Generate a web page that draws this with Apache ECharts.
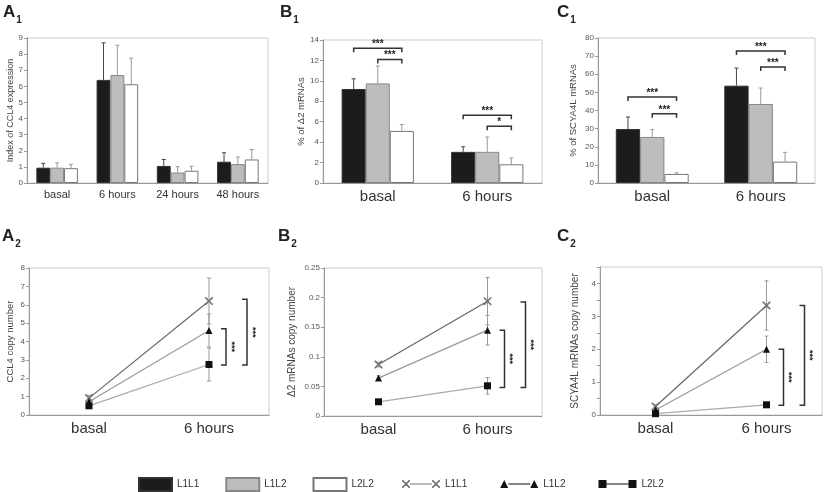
<!DOCTYPE html>
<html>
<head>
<meta charset="utf-8">
<script src="https://cdn.jsdelivr.net/npm/echarts@6/dist/echarts.min.js"></script>
<style>
html, body { margin: 0; padding: 0; background: #fff; }
#chart { width: 824px; height: 492px; }
</style>
</head>
<body>
<div id="chart"></div>
<script>
// categories
var barCats = ['basal', '6 hours', '24 hours', '48 hours'];
var twoCats = ['basal', '6 hours'];

// A1 - index of CCL4 expression (mean, upper error)
var a1L1L1 = [0.95, 6.4, 1.06, 1.32];
var a1L1L1Err = [0.27, 2.3, 0.4, 0.56];
var a1L1L2 = [0.95, 6.7, 0.65, 1.17];
var a1L1L2Err = [0.3, 1.85, 0.36, 0.44];
var a1L2L2 = [0.92, 6.13, 0.76, 1.46];
var a1L2L2Err = [0.24, 1.62, 0.28, 0.62];

// B1 - % of delta2 mRNAs
var b1L1L1 = [9.2, 3.05];
var b1L1L1Err = [1.0, 0.5];
var b1L1L2 = [9.75, 3.05];
var b1L1L2Err = [1.7, 1.45];
var b1L2L2 = [5.1, 1.83];
var b1L2L2Err = [0.62, 0.62];
// [category, from bar, to bar, height, label]
var b1Sig = [[0, 0, 2, 13.2, '***'], [0, 1, 2, 12.1, '***'], [1, 0, 2, 6.64, '***'], [1, 1, 2, 5.56, '*']];

// C1 - % of SCYA4L mRNAs
var c1L1L1 = [29.8, 53.7];
var c1L1L1Err = [6.6, 9.7];
var c1L1L2 = [25.4, 43.6];
var c1L1L2Err = [4.0, 8.8];
var c1L2L2 = [5.0, 11.8];
var c1L2L2Err = [0.6, 5.1];
var c1Sig = [[0, 0, 2, 47.4, '***'], [0, 1, 2, 38.2, '***'], [1, 0, 2, 72.8, '***'], [1, 1, 2, 64, '***']];

// A2 - CCL4 copy number
var a2L1L1 = [0.92, 6.2];
var a2L1L1Err = [0.15, 1.25];
var a2L1L2 = [0.72, 4.6];
var a2L1L2Err = [0.12, 0.9];
var a2L2L2 = [0.5, 2.75];
var a2L2L2Err = [0.1, 0.9];
// [category, top, bottom, label]
var a2Sig = [[1, 4.7, 2.72, '***'], [1, 6.3, 2.72, '***']];

// B2 - delta2 mRNAs copy number
var b2L1L1 = [0.087, 0.194];
var b2L1L1Err = [0.004, 0.04];
var b2L1L2 = [0.064, 0.145];
var b2L1L2Err = [0.004, 0.025];
var b2L2L2 = [0.024, 0.051];
var b2L2L2Err = [0.003, 0.014];
var b2Sig = [[1, 0.145, 0.048, '***'], [1, 0.1925, 0.048, '***']];

// C2 - SCYA4L mRNAs copy number
var c2L1L1 = [0.26, 3.33];
var c2L1L1Err = [0.05, 0.75];
var c2L1L2 = [0.15, 2.0];
var c2L1L2Err = [0.05, 0.4];
var c2L2L2 = [0.04, 0.31];
var c2L2L2Err = [0.03, 0.05];
var c2Sig = [[1, 2.0, 0.3, '***'], [1, 3.33, 0.3, '***']];

var font = 'Liberation Sans, Arial, sans-serif';
var xSymbol = 'path://M0,0L1.2,0L8,6.8L8,8L6.8,8L0,1.2Z M8,0L8,1.2L1.2,8L0,8L0,6.8L6.8,0Z';
var bracketOffsets = [17, 38]; // px right of the 6 hours point

function panelTitle(letter, left, top) {
	return {
		text: '{a|' + letter.charAt(0) + '}{s|' + letter.charAt(1) + '}',
		left: left,
		top: top,
		padding: 0,
		textStyle: {
			rich: {
				a: { fontSize: 17, fontFamily: font, color: '#222', verticalAlign: 'bottom' },
				s: { fontSize: 10, fontFamily: font, color: '#222', verticalAlign: 'bottom', padding: [0, 0, -4, 1] }
			}
		}
	};
}

function xAxisFor(grid, cats, size) {
	return {
		type: 'category', gridIndex: grid, data: cats,
		axisLine: { lineStyle: { color: '#999' } },
		axisTick: { length: 3, lineStyle: { color: '#999' } },
		axisLabel: { fontSize: size, fontFamily: font, color: '#333', margin: 6 }
	};
}

function yAxisFor(grid, max, interval, name, gap, nameSize, fmt) {
	return {
		type: 'value', gridIndex: grid, min: 0, max: max, interval: interval,
		name: name, nameLocation: 'middle', nameGap: gap,
		nameTextStyle: { fontSize: nameSize, fontFamily: font, color: '#444' },
		axisLine: { show: true, lineStyle: { color: '#999' } },
		axisTick: { show: true, length: 3, lineStyle: { color: '#999' } },
		splitLine: { show: false },
		axisLabel: { fontSize: 8, fontFamily: font, color: '#555', margin: 4, formatter: fmt }
	};
}

function barSeries(name, grid, data, width, color, border) {
	return {
		type: 'bar', name: name, xAxisIndex: grid, yAxisIndex: grid, data: data,
		barWidth: width, barGap: '0%',
		itemStyle: { color: color, borderColor: border, borderWidth: 1 }
	};
}

// upper error bars above grouped bars
function barErr(grid, vals, errs, idx, frac, color) {
	var rows = [];
	for (var i = 0; i < vals.length; i++) rows.push([i, vals[i], errs[i]]);
	return {
		type: 'custom', xAxisIndex: grid, yAxisIndex: grid, data: rows, z: 5,
		renderItem: function (params, api) {
			var band = api.size([1, 0])[0];
			var p0 = api.coord([api.value(0), api.value(1)]);
			var p1 = api.coord([api.value(0), api.value(1) + api.value(2)]);
			var x = p0[0] + (idx - 1) * band * frac;
			return { type: 'group', children: [
				{ type: 'line', shape: { x1: x, y1: p0[1], x2: x, y2: p1[1] }, style: { stroke: color, lineWidth: 1 } },
				{ type: 'line', shape: { x1: x - 2, y1: p1[1], x2: x + 2, y2: p1[1] }, style: { stroke: color, lineWidth: 1 } }
			] };
		}
	};
}

// significance brackets over bar pairs
function barSig(grid, sig, frac) {
	var rows = [];
	for (var i = 0; i < sig.length; i++) rows.push([sig[i][0], sig[i][3]]);
	return {
		type: 'custom', xAxisIndex: grid, yAxisIndex: grid, data: rows, z: 6,
		renderItem: function (params, api) {
			var s = sig[params.dataIndex];
			var band = api.size([1, 0])[0];
			var p = api.coord([api.value(0), api.value(1)]);
			var x1 = p[0] + (s[1] - 1) * band * frac;
			var x2 = p[0] + (s[2] - 1) * band * frac;
			var st = { stroke: '#333', lineWidth: 1.5, fill: 'none' };
			return { type: 'group', children: [
				{ type: 'polyline', shape: { points: [[x1, p[1] + 4], [x1, p[1]], [x2, p[1]], [x2, p[1] + 4]] }, style: st },
				{ type: 'text', x: (x1 + x2) / 2, y: p[1] + 1, style: { text: s[4], fill: '#222', font: 'bold 10px ' + font, align: 'center', verticalAlign: 'bottom' } }
			] };
		}
	};
}

function lineSeries(name, grid, data, symbol, size, lineColor, markColor) {
	return {
		type: 'line', name: name, xAxisIndex: grid, yAxisIndex: grid, data: data,
		symbol: symbol, symbolSize: size, z: 4,
		lineStyle: { color: lineColor, width: 1.2 },
		itemStyle: { color: markColor }
	};
}

// +/- error bars on line points
function lineErr(grid, vals, errs) {
	var rows = [];
	for (var i = 0; i < vals.length; i++) rows.push([i, vals[i] - errs[i], vals[i] + errs[i]]);
	return {
		type: 'custom', xAxisIndex: grid, yAxisIndex: grid, data: rows, z: 3,
		renderItem: function (params, api) {
			var lo = api.coord([api.value(0), api.value(1)]);
			var hi = api.coord([api.value(0), api.value(2)]);
			var st = { stroke: '#999', lineWidth: 1 };
			return { type: 'group', children: [
				{ type: 'line', shape: { x1: lo[0], y1: lo[1], x2: hi[0], y2: hi[1] }, style: st },
				{ type: 'line', shape: { x1: lo[0] - 2, y1: lo[1], x2: lo[0] + 2, y2: lo[1] }, style: st },
				{ type: 'line', shape: { x1: hi[0] - 2, y1: hi[1], x2: hi[0] + 2, y2: hi[1] }, style: st }
			] };
		}
	};
}

// vertical brackets to the right of the 6 hours points
function lineSig(grid, sig) {
	var rows = [];
	for (var i = 0; i < sig.length; i++) rows.push([sig[i][0], sig[i][1], sig[i][2]]);
	return {
		type: 'custom', xAxisIndex: grid, yAxisIndex: grid, data: rows, z: 6,
		renderItem: function (params, api) {
			var s = sig[params.dataIndex];
			var top = api.coord([api.value(0), api.value(1)]);
			var bot = api.coord([api.value(0), api.value(2)]);
			var x = top[0] + bracketOffsets[params.dataIndex];
			var st = { stroke: '#333', lineWidth: 1.5, fill: 'none' };
			return { type: 'group', children: [
				{ type: 'polyline', shape: { points: [[x - 5, top[1]], [x, top[1]], [x, bot[1]], [x - 5, bot[1]]] }, style: st },
				{ type: 'text', x: x + 5, y: (top[1] + bot[1]) / 2, rotation: -Math.PI / 2, style: { text: s[3], fill: '#222', font: 'bold 9px ' + font, align: 'center', verticalAlign: 'middle' } }
			] };
		}
	};
}

function intOnly(v) {
	return Math.abs(v - Math.round(v)) < 1e-6 ? String(v) : '';
}

var option = {
	animation: false,
	backgroundColor: '#fff',
	title: [
		panelTitle('A1', 3, 4),
		panelTitle('B1', 280, 4),
		panelTitle('C1', 557, 4),
		panelTitle('A2', 2, 228),
		panelTitle('B2', 278, 228),
		panelTitle('C2', 557, 228)
	],
	grid: [
		{ left: 27, top: 38, width: 241, height: 145, show: true, borderColor: '#ccc', borderWidth: 1 },
		{ left: 323, top: 40, width: 219, height: 143, show: true, borderColor: '#ccc', borderWidth: 1 },
		{ left: 598, top: 38, width: 217, height: 145, show: true, borderColor: '#ccc', borderWidth: 1 },
		{ left: 29, top: 268, width: 240, height: 147, show: true, borderColor: '#ccc', borderWidth: 1 },
		{ left: 324, top: 268, width: 218, height: 148, show: true, borderColor: '#ccc', borderWidth: 1 },
		{ left: 600, top: 267, width: 222, height: 148, show: true, borderColor: '#ccc', borderWidth: 1 }
	],
	xAxis: [
		xAxisFor(0, barCats, 11),
		xAxisFor(1, twoCats, 15),
		xAxisFor(2, twoCats, 15),
		xAxisFor(3, twoCats, 15),
		xAxisFor(4, twoCats, 15),
		xAxisFor(5, twoCats, 15)
	],
	yAxis: [
		yAxisFor(0, 9, 1, 'Index of CCL4 expression', 12, 9),
		yAxisFor(1, 14, 2, '% of \u03942 mRNAs', 12, 9.5),
		yAxisFor(2, 80, 10, '% of SCYA4L mRNAs', 20, 9.5),
		yAxisFor(3, 8, 1, 'CCL4 copy number', 14, 9.5),
		yAxisFor(4, 0.25, 0.05, '\u03942 mRNAs copy number', 27, 10),
		yAxisFor(5, 4.5, 0.5, 'SCYA4L mRNAs copy number', 20, 10, intOnly)
	],
	legend: [
		{
			left: 133, top: 472, itemWidth: 33, itemHeight: 13, itemGap: 26, icon: 'rect',
			selectedMode: false,
			textStyle: { fontSize: 10, fontFamily: font, color: '#333' },
			formatter: function (name) { return name.replace('bar ', ''); },
			data: ['bar L1L1', 'bar L1L2', 'bar L2L2']
		},
		{
			left: 397, top: 474, itemWidth: 38, itemHeight: 8, itemGap: 33,
			selectedMode: false,
			textStyle: { fontSize: 10, fontFamily: font, color: '#333' },
			formatter: function (name) { return name.replace('line ', ''); },
			data: [
				{ name: 'line L1L1', icon: 'path://M0,0L1.2,0L8,6.8L8,8L6.8,8L0,1.2Z M8,0L8,1.2L1.2,8L0,8L0,6.8L6.8,0Z M8,3.6h22v0.8h-22Z M30,0L31.2,0L38,6.8L38,8L36.8,8L30,1.2Z M38,0L38,1.2L31.2,8L30,8L30,6.8L36.8,0Z', itemStyle: { color: '#777', borderWidth: 0 } },
				{ name: 'line L1L2', icon: 'path://M0,8L4,0L8,8Z M8,3.6h22v0.8h-22Z M30,8L34,0L38,8Z', itemStyle: { color: '#111', borderWidth: 0 } },
				{ name: 'line L2L2', icon: 'path://M0,0h8v8h-8Z M8,3.6h22v0.8h-22Z M30,0h8v8h-8Z', itemStyle: { color: '#111', borderWidth: 0 } }
			]
		}
	],
	series: [
		barSeries('bar L1L1', 0, a1L1L1, '23%', '#1c1c1c', '#333'),
		barSeries('bar L1L2', 0, a1L1L2, '23%', '#bdbdbd', '#888'),
		barSeries('bar L2L2', 0, a1L2L2, '23%', '#ffffff', '#777'),
		barErr(0, a1L1L1, a1L1L1Err, 0, 0.23, '#444'),
		barErr(0, a1L1L2, a1L1L2Err, 1, 0.23, '#999'),
		barErr(0, a1L2L2, a1L2L2Err, 2, 0.23, '#999'),

		barSeries('bar L1L1', 1, b1L1L1, '22%', '#1c1c1c', '#333'),
		barSeries('bar L1L2', 1, b1L1L2, '22%', '#bdbdbd', '#888'),
		barSeries('bar L2L2', 1, b1L2L2, '22%', '#ffffff', '#777'),
		barErr(1, b1L1L1, b1L1L1Err, 0, 0.22, '#444'),
		barErr(1, b1L1L2, b1L1L2Err, 1, 0.22, '#999'),
		barErr(1, b1L2L2, b1L2L2Err, 2, 0.22, '#999'),
		barSig(1, b1Sig, 0.22),

		barSeries('bar L1L1', 2, c1L1L1, '22.4%', '#1c1c1c', '#333'),
		barSeries('bar L1L2', 2, c1L1L2, '22.4%', '#bdbdbd', '#888'),
		barSeries('bar L2L2', 2, c1L2L2, '22.4%', '#ffffff', '#777'),
		barErr(2, c1L1L1, c1L1L1Err, 0, 0.224, '#444'),
		barErr(2, c1L1L2, c1L1L2Err, 1, 0.224, '#999'),
		barErr(2, c1L2L2, c1L2L2Err, 2, 0.224, '#999'),
		barSig(2, c1Sig, 0.224),

		lineErr(3, a2L1L1, a2L1L1Err),
		lineErr(3, a2L1L2, a2L1L2Err),
		lineErr(3, a2L2L2, a2L2L2Err),
		lineSeries('line L1L1', 3, a2L1L1, xSymbol, 8, '#666', '#777'),
		lineSeries('line L1L2', 3, a2L1L2, 'triangle', 7, '#999', '#111'),
		lineSeries('line L2L2', 3, a2L2L2, 'rect', 7, '#aaa', '#111'),
		lineSig(3, a2Sig),

		lineErr(4, b2L1L1, b2L1L1Err),
		lineErr(4, b2L1L2, b2L1L2Err),
		lineErr(4, b2L2L2, b2L2L2Err),
		lineSeries('line L1L1', 4, b2L1L1, xSymbol, 8, '#666', '#777'),
		lineSeries('line L1L2', 4, b2L1L2, 'triangle', 7, '#999', '#111'),
		lineSeries('line L2L2', 4, b2L2L2, 'rect', 7, '#aaa', '#111'),
		lineSig(4, b2Sig),

		lineErr(5, c2L1L1, c2L1L1Err),
		lineErr(5, c2L1L2, c2L1L2Err),
		lineErr(5, c2L2L2, c2L2L2Err),
		lineSeries('line L1L1', 5, c2L1L1, xSymbol, 8, '#666', '#777'),
		lineSeries('line L1L2', 5, c2L1L2, 'triangle', 7, '#999', '#111'),
		lineSeries('line L2L2', 5, c2L2L2, 'rect', 7, '#aaa', '#111'),
		lineSig(5, c2Sig)
	]
};

var myChart = echarts.init(document.getElementById('chart'));
myChart.setOption(option);
</script>
</body>
</html>
